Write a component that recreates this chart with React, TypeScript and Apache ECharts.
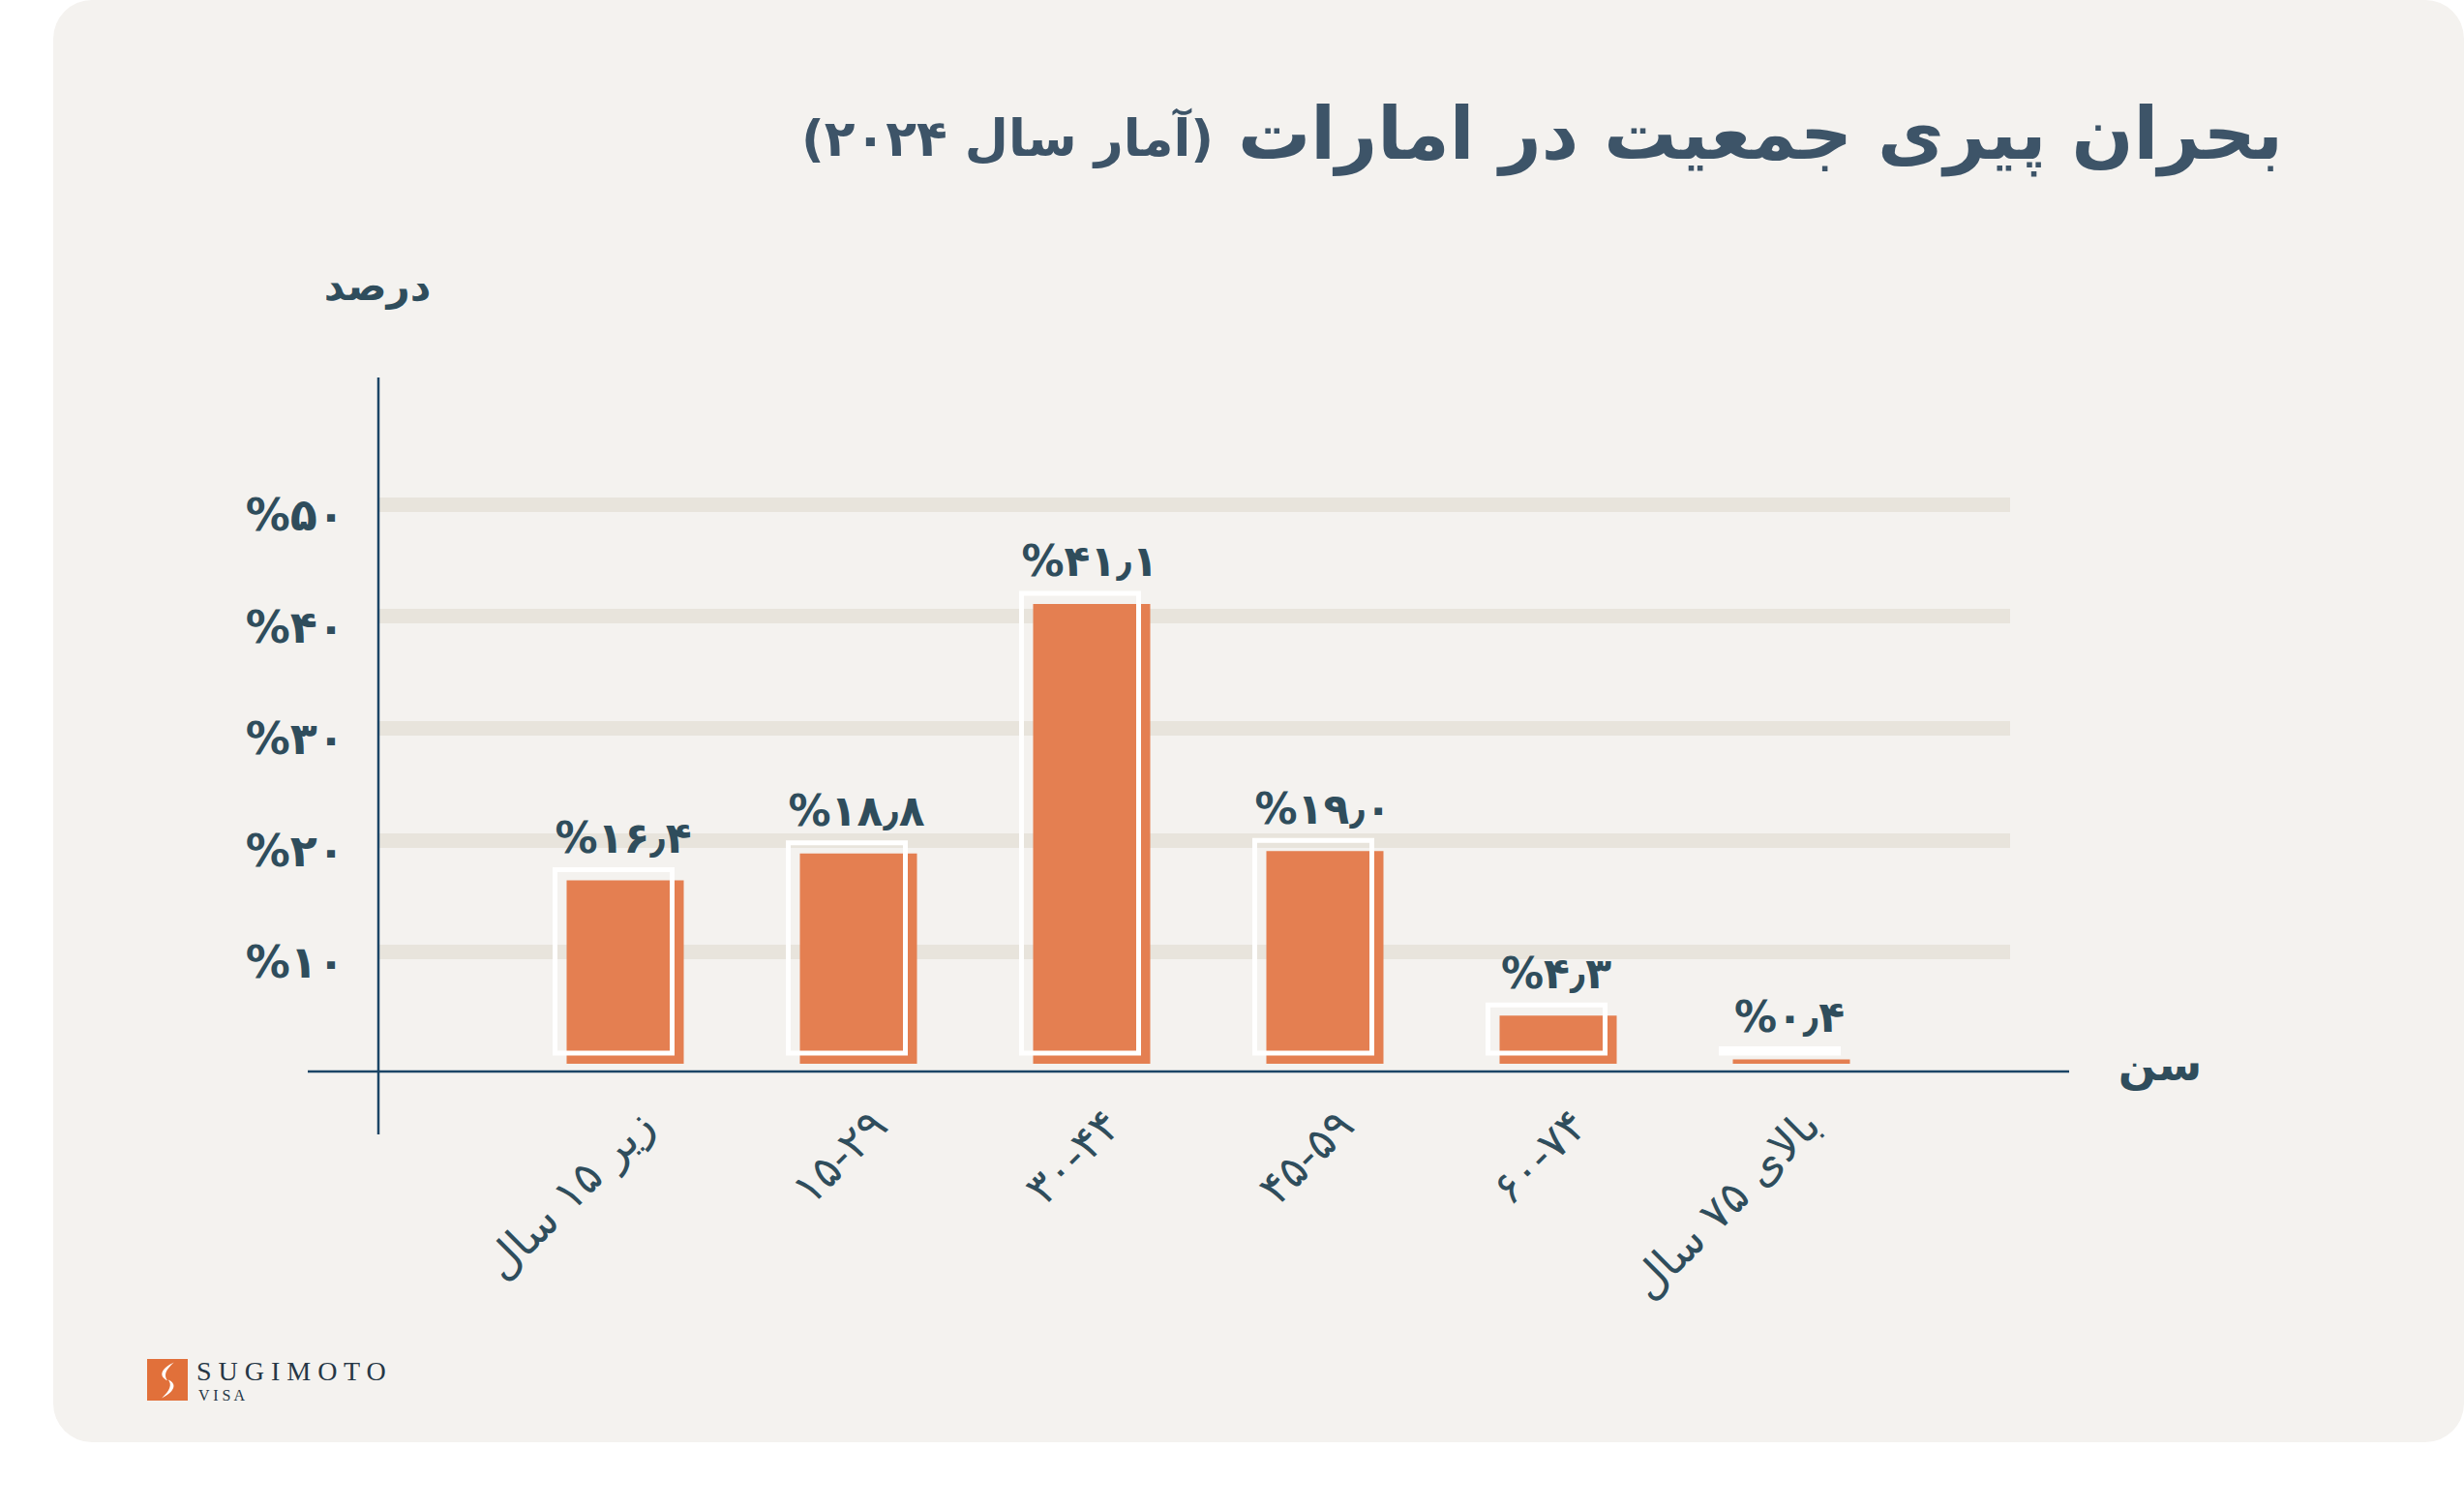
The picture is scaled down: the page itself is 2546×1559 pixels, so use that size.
import React, { useEffect, useRef } from 'react';
import * as echarts from 'echarts';

// ---------- data ----------
const categories = ['زیر ۱۵ سال', '۱۵-۲۹', '۳۰-۴۴', '۴۵-۵۹', '۶۰-۷۴', 'بالای ۷۵ سال'];
const values = [16.4, 18.8, 41.1, 19.0, 4.3, 0.4];
const yTicks = [0, 10, 20, 30, 40, 50];
const yTickLabels = ['', '%۱۰', '%۲۰', '%۳۰', '%۴۰', '%۵۰'];

const titleMain = 'بحران پیری جمعیت در امارات';
const titleSub = '(آمار سال ۲۰۲۴)';
const yAxisName = 'درصد';
const xAxisName = 'سن';

const FA_DIGITS = '۰۱۲۳۴۵۶۷۸۹';
const toFa = (s: string) => s.replace(/\d/g, (d) => FA_DIGITS[+d]).replace('.', '٫');
const valueLabels = values.map((v) => '%' + toFa(v.toFixed(1)));

// ---------- styles ----------
const FONT = '"DejaVu Sans", "Noto Sans", sans-serif';
const TEXT = '#2f4d5c';
const TITLE = '#3d5468';
const ORANGE = '#e47f51';
const AXIS = '#1b4566';
const GRIDLINE = '#e8e4dc';

echarts.graphic.registerShape(
  'sugiLeaf',
  echarts.graphic.extendPath(
    'M66 8 C36 22 26 40 50 52 C40 38 46 26 66 8 Z M36 94 C66 80 76 60 52 50 C62 62 56 76 36 94 Z',
    {}
  )
);

export default function App() {
  const ref = useRef<HTMLDivElement>(null);

  useEffect(() => {
    if (!ref.current) return;
    const chart = echarts.init(ref.current, undefined, { renderer: 'svg' });

    const option: any = {
      animation: false,
      backgroundColor: '#ffffff',
      graphic: [
        {
          type: 'rect',
          z: -100,
          shape: { x: 55, y: 0, width: 2491, height: 1490, r: 40 },
          style: { fill: '#f4f2ef' },
        },
        {
          type: 'text',
          z: 10,
          x: 2359,
          y: 138,
          style: {
            text: titleMain,
            font: `bold 75px ${FONT}`,
            fill: TITLE,
            textAlign: 'right',
            textVerticalAlign: 'middle',
          },
        },
        {
          type: 'text',
          z: 10,
          x: 1254,
          y: 143,
          style: {
            text: titleSub,
            font: `bold 52px ${FONT}`,
            fill: TITLE,
            textAlign: 'right',
            textVerticalAlign: 'middle',
          },
        },
        {
          type: 'text',
          z: 10,
          x: 390,
          y: 295,
          style: {
            text: yAxisName,
            font: `bold 42px ${FONT}`,
            fill: TEXT,
            textAlign: 'center',
            textVerticalAlign: 'middle',
          },
        },
        {
          type: 'text',
          z: 10,
          x: 2232,
          y: 1100,
          style: {
            text: xAxisName,
            font: `bold 46px ${FONT}`,
            fill: TEXT,
            textAlign: 'center',
            textVerticalAlign: 'middle',
          },
        },
        {
          type: 'line',
          z: 50,
          shape: { x1: 391, y1: 390, x2: 391, y2: 1172 },
          style: { stroke: AXIS, lineWidth: 2.5 },
        },
        {
          type: 'line',
          z: 50,
          shape: { x1: 318, y1: 1107, x2: 2138, y2: 1107 },
          style: { stroke: AXIS, lineWidth: 2.5 },
        },
        // logo
        {
          type: 'rect',
          z: 10,
          shape: { x: 152, y: 1404, width: 42, height: 43 },
          style: { fill: '#e1703a' },
        },
        {
          type: 'sugiLeaf',
          z: 11,
          x: 152,
          y: 1404,
          scaleX: 0.42,
          scaleY: 0.43,
          style: { fill: '#ffffff' },
        },
        {
          type: 'text',
          z: 10,
          x: 203,
          y: 1416,
          style: {
            text: 'S U G I M O T O',
            font: `28px "Liberation Serif", serif`,
            fill: '#263746',
            textAlign: 'left',
            textVerticalAlign: 'middle',
          },
        },
        {
          type: 'text',
          z: 10,
          x: 205,
          y: 1441,
          style: {
            text: 'V I S A',
            font: `16px "Liberation Serif", serif`,
            fill: '#263746',
            textAlign: 'left',
            textVerticalAlign: 'middle',
          },
        },
      ],
      grid: [
        { left: 391, right: 469, top: 521, bottom: 460 },
        { left: 525.5, right: 574.5, top: 521, bottom: 460 },
      ],
      xAxis: [
        { type: 'category', gridIndex: 0, data: categories, show: false },
        {
          type: 'category',
          gridIndex: 1,
          data: categories,
          axisLine: { show: false },
          axisTick: { show: false },
          splitLine: { show: false },
          axisLabel: {
            interval: 0,
            rotate: 45,
            margin: 34,
            formatter: (v: string) => `{c|${v}}`,
            rich: {
              c: {
                fontSize: 46,
                fontFamily: FONT,
                color: TEXT,
                padding: [60, 0, 0, 0],
              },
            },
          },
        },
      ],
      yAxis: [
        {
          type: 'value',
          gridIndex: 0,
          min: yTicks[0],
          max: yTicks[yTicks.length - 1],
          interval: 10,
          axisLine: { show: false },
          axisTick: { show: false },
          axisLabel: {
            margin: 35,
            formatter: (v: number) => {
              const t = yTickLabels[yTicks.indexOf(v)] ?? '';
              return t ? `{y|${t}}` : '';
            },
            rich: {
              y: {
                fontSize: 46,
                fontWeight: 'bold',
                fontFamily: FONT,
                color: TEXT,
                padding: [22, 0, 0, 0],
              },
            },
          },
          splitLine: {
            show: true,
            showMinLine: false,
            lineStyle: { color: GRIDLINE, width: 15 },
          },
        },
        {
          type: 'value',
          gridIndex: 1,
          min: yTicks[0],
          max: yTicks[yTicks.length - 1],
          interval: 10,
          show: false,
          splitLine: { show: false },
        },
      ],
      series: [
        {
          type: 'custom',
          xAxisIndex: 1,
          yAxisIndex: 1,
          z: 5,
          encode: { x: 0, y: 1 },
          data: values.map((v, i) => [i, v]),
          renderItem: (params: any, api: any) => {
            const i = api.value(0);
            const v = api.value(1);
            const top = api.coord([i, v]);
            const base = api.coord([i, 0]);
            const w = 121;
            const h = base[1] - top[1];
            const left = top[0] - w / 2;
            return {
              type: 'group',
              children: [
                {
                  type: 'rect',
                  shape: { x: left, y: top[1], width: w, height: h },
                  style: { fill: ORANGE },
                },
                {
                  type: 'rect',
                  shape: { x: left - 12, y: top[1] - 11, width: w, height: h },
                  style: { fill: 'none', stroke: '#ffffff', lineWidth: 5 },
                },
                {
                  type: 'text',
                  x: top[0] - 2,
                  y: top[1] - 44,
                  style: {
                    text: valueLabels[params.dataIndex],
                    font: `bold 44px ${FONT}`,
                    fill: TEXT,
                    textAlign: 'center',
                    textVerticalAlign: 'middle',
                  },
                },
              ],
            };
          },
        },
      ],
    };

    chart.setOption(option);
    return () => chart.dispose();
  }, []);

  return (
    <div
      ref={ref}
      style={{ position: 'fixed', left: 0, top: 0, width: 2546, height: 1559 }}
    />
  );
}
